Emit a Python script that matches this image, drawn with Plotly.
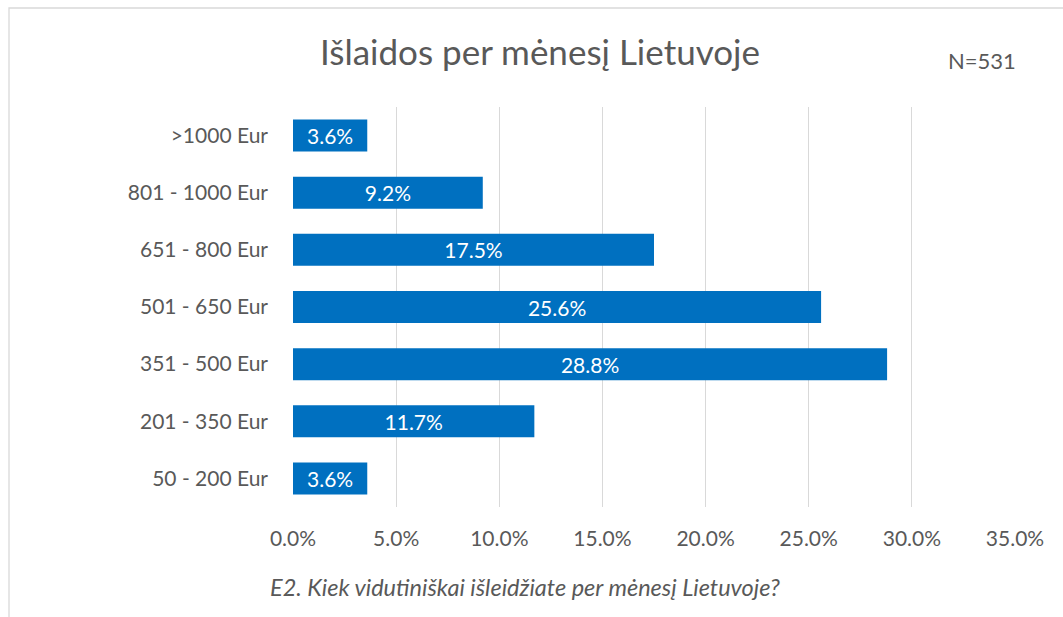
import plotly.graph_objects as go

categories = ["50 - 200 Eur", "201 - 350 Eur", "351 - 500 Eur", "501 - 650 Eur",
              "651 - 800 Eur", "801 - 1000 Eur", ">1000 Eur"]
values = [3.6, 11.7, 28.8, 25.6, 17.5, 9.2, 3.6]
x_ticks = [0, 5, 10, 15, 20, 25, 30, 35]
x_tick_labels = ["0.0%", "5.0%", "10.0%", "15.0%", "20.0%", "25.0%", "30.0%", "35.0%"]

title_text = "Išlaidos per mėnesį Lietuvoje"
n_text = "N=531"
caption_text = "E2. Kiek vidutiniškai išleidžiate per mėnesį Lietuvoje?"

FONT = "Lato"
GREY = "#595959"

L, R, T, B = 293, 48, 107, 110
W, H = 1063, 617

fig = go.Figure(go.Bar(
    x=values, y=categories, orientation="h",
    marker=dict(color="#0070C0", line=dict(width=0)),
    text=[f"{v:.1f}%" for v in values],
    textposition="inside", insidetextanchor="middle",
    textfont=dict(color="white", size=21, family=FONT),
    hoverinfo="skip",
))

fig.update_layout(
    width=W, height=H,
    margin=dict(l=L, r=R, t=T, b=B),
    paper_bgcolor="white", plot_bgcolor="white",
    bargap=0.44,
    showlegend=False,
    font=dict(family=FONT, color=GREY, size=21),
    xaxis=dict(range=[0, 35], tickvals=x_ticks, ticktext=x_tick_labels,
               showgrid=True, gridcolor="#D9D9D9", gridwidth=1.3,
               zeroline=False, showline=False, ticks="",
               ticklabelstandoff=17,
               tickfont=dict(size=21, color=GREY, family=FONT)),
    yaxis=dict(showgrid=False, zeroline=False, showline=False, ticks="",
               ticklabelstandoff=24,
               tickfont=dict(size=21, color=GREY, family=FONT)),
    annotations=[
        dict(text=title_text, x=540, y=51, xref="paper", yref="paper",
             showarrow=False, font=dict(size=35, color=GREY, family=FONT)),
        dict(text=n_text, x=982, y=60, xref="paper", yref="paper",
             showarrow=False, font=dict(size=22, color=GREY, family=FONT)),
        dict(text="<i>" + caption_text + "</i>", x=525, y=587, xref="paper", yref="paper",
             showarrow=False, font=dict(size=23.5, color=GREY, family=FONT)),
    ],
)

# convert annotation pixel positions to paper coords
pw = W - L - R
ph = H - T - B
for a in fig.layout.annotations:
    px, py = a.x, a.y
    a.x = (px - L) / pw
    a.y = (H - B - py) / ph
    a.xanchor = "center"
    a.yanchor = "middle"

fig.add_shape(type="rect", xref="paper", yref="paper",
              x0=(9 - L) / pw, x1=(1070 - L) / pw,
              y0=(H - B - 625) / ph, y1=(H - B - 8) / ph,
              line=dict(color="#D9D9D9", width=1.3), layer="below")

fig.write_html("out.html", config={"displayModeBar": False},
               post_script="document.body.style.margin='0px';")
